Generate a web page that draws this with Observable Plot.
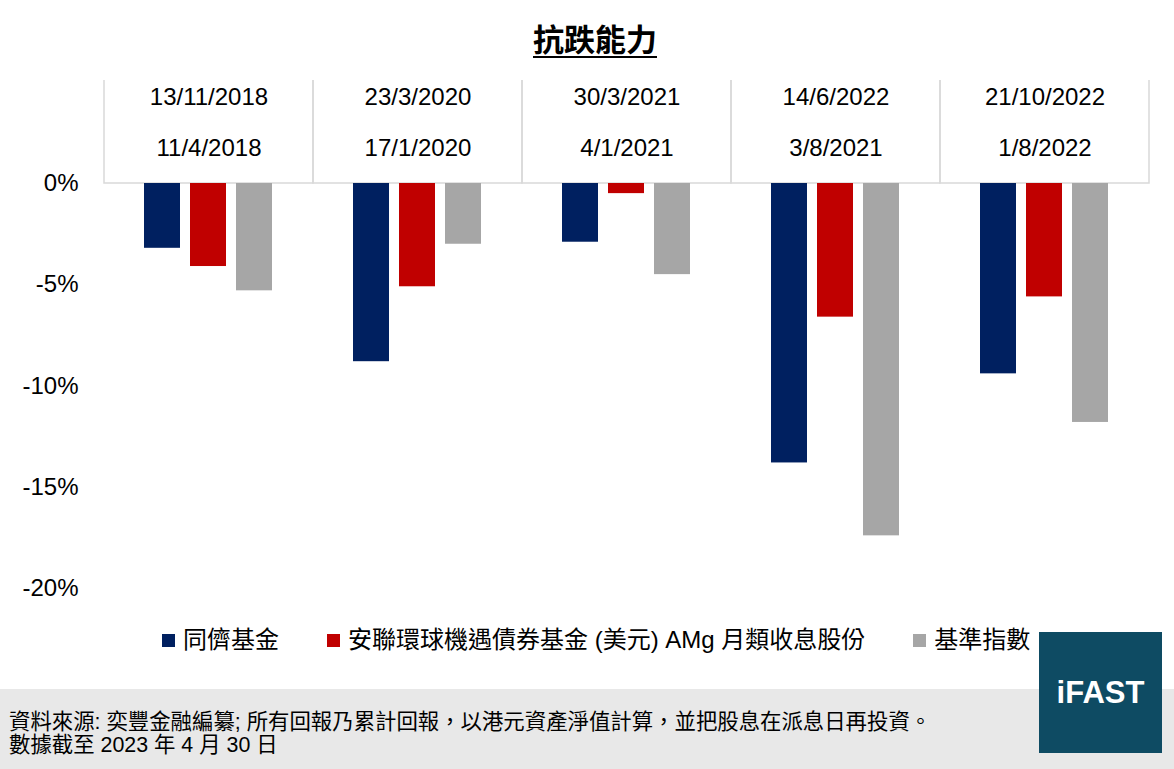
<!DOCTYPE html>
<html>
<head>
<meta charset="utf-8">
<script src="https://cdn.jsdelivr.net/npm/d3@7"></script>
<script src="https://cdn.jsdelivr.net/npm/@observablehq/plot@0.6"></script>
<style>
  html, body { margin: 0; padding: 0; background: #fff; }
  #page { position: relative; width: 1174px; height: 769px; overflow: hidden; background: #fff;
          font-family: "Liberation Sans", Arial, "Noto Sans CJK TC", sans-serif; }
  #title { position: absolute; left: 8px; top: 0; width: 1174px; height: 80px; text-align: center;
           font-family: "Noto Sans CJK TC", sans-serif; font-weight: 700; font-size: 31px; line-height: 76px;
           color: #000; }
  #title span { text-decoration: underline; text-decoration-thickness: 2px; text-underline-offset: 5px; }
  #chart { position: absolute; left: 0; top: 80px; }
  #legend { position: absolute; left: 162px; top: 628px; display: flex; align-items: center; line-height: 1;
            font-family: "Liberation Sans", Arial, "Noto Sans CJK TC", sans-serif; font-size: 24px; color: #000; }
  .item { display: flex; align-items: center; margin-right: 48px; white-space: nowrap; }
  .sw { width: 13px; height: 13px; margin-right: 8px; display: inline-block; }
  #footer { position: absolute; left: 0; top: 689px; width: 1174px; height: 80px; background: #e8e8e8;
            font-family: "Liberation Sans", Arial, "Noto Sans CJK TC", sans-serif; font-size: 21.4px; color: #000;
            line-height: 1; }
  #footer div { position: absolute; left: 9px; white-space: nowrap; }
  #logo { position: absolute; left: 1039px; top: 632px; width: 123px; height: 121px; background: #0e4b63;
          color: #fff; font-family: "Liberation Sans", Arial, sans-serif; font-weight: 700; font-size: 31px;
          display: flex; align-items: center; justify-content: center; }
</style>
</head>
<body>
<div id="page">
  <div id="title"><span>抗跌能力</span></div>
  <div id="chart"></div>
  <div id="legend"></div>
  <div id="footer">
    <div id="f1" style="top: 23px;">資料來源: 奕豐金融編纂; 所有回報乃累計回報，以港元資產淨值計算，並把股息在派息日再投資。</div>
    <div id="f2" style="top: 46px;">數據截至 2023 年 4 月 30 日</div>
  </div>
  <div id="logo">iFAST</div>
</div>
<script>
// ---- data ----
const endDates   = ["13/11/2018", "23/3/2020", "30/3/2021", "14/6/2022", "21/10/2022"];
const startDates = ["11/4/2018", "17/1/2020", "4/1/2021", "3/8/2021", "1/8/2022"];
const series = ["同儕基金", "安聯環球機遇債券基金 (美元) AMg 月類收息股份", "基準指數"];
const peerValues  = [-3.2, -8.8, -2.9, -13.8, -9.4];
const fundValues  = [-4.1, -5.1, -0.5, -6.6, -5.6];
const benchValues = [-5.3, -3.0, -4.5, -17.4, -11.8];
const colors = ["#002060", "#C00000", "#A6A6A6"];
const yTicks = [0, -5, -10, -15, -20];
const headerTop = 6; // extends beyond the SVG top, so only the vertical sides show

// ---- build table ----
const valuesBySeries = [peerValues, fundValues, benchValues];
const data = [];
endDates.forEach((g, i) => {
  series.forEach((s, j) => data.push({group: g, series: s, value: valuesBySeries[j][i]}));
});
const groupLabel = Object.fromEntries(endDates.map((g, i) => [g, g + "\n" + startDates[i]]));

const plot = Plot.plot({
  width: 1174,
  height: 540,
  marginLeft: 103,
  marginRight: 24,
  marginTop: 103,
  marginBottom: 32,
  style: {overflow: "hidden", fontFamily: "'Liberation Sans', Arial, sans-serif", background: "transparent"},
  fx: {domain: endDates, padding: 0, axis: null},
  x: {domain: series, paddingInner: 0.215, paddingOuter: 0.86, axis: null},
  y: {domain: [-20, 0], nice: false, axis: null},
  color: {domain: series, range: colors},
  marks: [
    Plot.rect(endDates, {fx: d => d, y1: 0, y2: headerTop, fill: "none", stroke: "#d9d9d9", strokeWidth: 1.5}),
    Plot.barY(data, {fx: "group", x: "series", y: "value", fill: "series"}),
    Plot.text(endDates, {fx: d => d, text: d => groupLabel[d], frameAnchor: "top", lineAnchor: "bottom",
      dy: -28, lineHeight: 2.125, fontSize: 24, fill: "#000"}),
    Plot.axisY({ticks: yTicks, tickFormat: d => d + "%", tickSize: 0, tickPadding: 26, fontSize: 24,
      fill: "#000", label: null})
  ]
});
document.getElementById("chart").appendChild(plot);

// ---- legend ----
const legend = document.getElementById("legend");
series.forEach((s, i) => {
  const item = document.createElement("div");
  item.className = "item";
  const sw = document.createElement("span");
  sw.className = "sw";
  sw.style.background = colors[i];
  const t = document.createElement("span");
  t.textContent = s;
  item.appendChild(sw);
  item.appendChild(t);
  legend.appendChild(item);
});
</script>
</body>
</html>
